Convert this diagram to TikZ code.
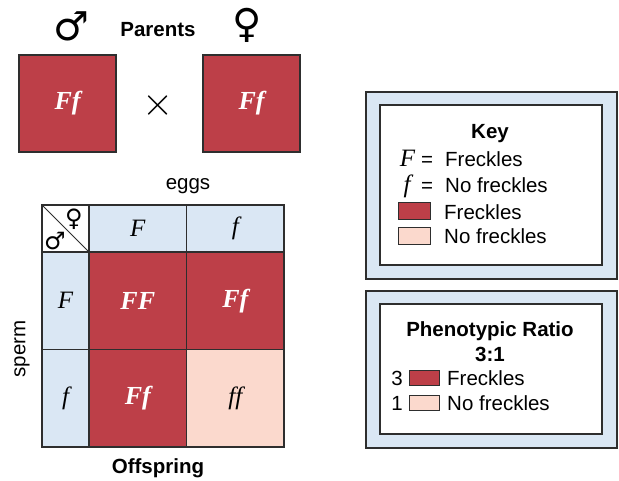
\documentclass[tikz,border=0pt]{standalone}
\usepackage{fontspec}
\setmainfont{Liberation Sans}
\newfontfamily\allelefont{Liberation Serif}
\newfontfamily\symbfont{DejaVu Sans}
\usetikzlibrary{positioning}

\definecolor{punnred}{HTML}{BD3F48}
\definecolor{punnpink}{HTML}{FBD9CD}
\definecolor{punnblue}{HTML}{DAE7F4}
\definecolor{punnline}{HTML}{2E2E2E}

\begin{document}
\begin{tikzpicture}[
            x=1pt, y=-1pt,
            lbl/.style={font=\fontsize{20.5}{24}\selectfont, inner sep=0pt},
            hdr/.style={font=\fontsize{20.5}{24}\selectfont\bfseries, inner sep=0pt},
            sex/.style={font=\fontsize{40}{40}\selectfont\symbfont, inner sep=0pt},
            cell/.style={draw=punnline, line width=1.2pt, inner sep=0pt, outer sep=0pt,
                minimum width=97.5pt, minimum height=97.5pt},
            allele/.style={font=\fontsize{25}{25}\selectfont\allelefont\itshape},
            geno/.style={font=\fontsize{26}{26}\selectfont\allelefont\bfseries\itshape, text=white},
            swatch/.style={draw=punnline, line width=1pt, inner sep=0pt, minimum width=32pt, minimum height=17pt},
            panel/.style={draw=punnline, line width=1.2pt, fill=punnblue, inner sep=0pt},
            inner/.style={draw=punnline, line width=1.4pt, fill=white, inner sep=0pt},
        ]
        \useasboundingbox (0,0) rectangle (619,481);

        % parents
        \node[sex] (maleP) at (71,26) {♂};
        \node[hdr, anchor=base] (parents) at (158,37) {Parents};
        \node[sex] (femaleP) at (247,25) {♀};
        \node[cell, fill=punnred, minimum width=97pt, minimum height=97pt, geno] (parM) at (67.5,103.5) {Ff};
        \node[cell, fill=punnred, minimum width=97pt, minimum height=97pt, geno] (parF) at (251.5,103.5) {Ff};
        \node[scale=4.0, inner sep=0pt] (cross) at (158,106) {$\times$};

        % punnett square
        \node[lbl] (eggs) at (188,186) {eggs};
        \node[lbl, rotate=90] (sperm) at (22,349) {sperm};
        \node[cell, fill=white, minimum width=47pt, minimum height=47pt] (corner) at (65.5,228.5) {};
        \node[cell, fill=punnblue, minimum height=47pt, allele] (hF) at (137.75,228.5) {F};
        \node[cell, fill=punnblue, minimum height=47pt, allele] (hf) at (235.25,228.5) {f};
        \node[cell, fill=punnblue, minimum width=47pt, allele] (rF) at (65.5,300.75) {F};
        \node[cell, fill=punnblue, minimum width=47pt, allele] (rf) at (65.5,398.25) {f};
        \node[cell, fill=punnred, geno] (FF) at (137.75,300.75) {FF};
        \node[cell, fill=punnred, geno] (Ff1) at (235.25,300.75) {Ff};
        \node[cell, fill=punnred, geno] (Ff2) at (137.75,398.25) {Ff};
        \node[cell, fill=punnpink, allele] (ff) at (235.25,398.25) {ff};
        \draw[punnline, line width=1pt] (corner.north west) -- (corner.south east);
        \node[sex, font=\fontsize{24}{24}\selectfont\symbfont] (femaleC) at (74,219) {♀};
        \node[sex, font=\fontsize{24}{24}\selectfont\symbfont] (maleC) at (55,241) {♂};
        \draw[punnline, line width=2.6pt] (corner.north east) -- (rf.south east);
        \draw[punnline, line width=2.6pt] (corner.south west) -- (hf.south east);
        \node[hdr] (offspring) at (158,468) {Offspring};

        % key
        \node[panel, minimum width=251pt, minimum height=187pt] (keyout) at (491.5,185.5) {};
        \node[inner, minimum width=222pt, minimum height=160pt] (keyin) at (491,185) {};
        \node[hdr, anchor=base] (keyttl) at (490,139) {Key};
        \node[allele, inner sep=0pt, anchor=base] (keyF) at (407.5,167) {F};
        \node[lbl, anchor=base] (keyFeq) at (427,167) {=};
        \node[lbl, anchor=base west] (keyFtxt) at (445,167) {Freckles};
        \node[allele, inner sep=0pt, anchor=base] (keyf) at (407,193) {f};
        \node[lbl, anchor=base] (keyfeq) at (427,193) {=};
        \node[lbl, anchor=base west] (keyftxt) at (445,193) {No freckles};
        \node[swatch, fill=punnred] (keyred) at (414,211.5) {};
        \node[lbl, anchor=base west] (keyredtxt) at (444,220) {Freckles};
        \node[swatch, fill=punnpink] (keypink) at (414,236.5) {};
        \node[lbl, anchor=base west] (keypinktxt) at (444,244) {No freckles};

        % ratio
        \node[panel, minimum width=251pt, minimum height=157pt] (ratout) at (491.5,369.5) {};
        \node[inner, minimum width=222pt, minimum height=130pt] (ratin) at (491,369) {};
        \node[hdr, anchor=base] (ratttl) at (490,337) {Phenotypic Ratio};
        \node[hdr, anchor=base] (ratval) at (490,361) {3:1};
        \node[lbl, anchor=base] (ratn3) at (397,385) {3};
        \node[swatch, fill=punnred, minimum width=30pt, minimum height=15pt] (ratred) at (424,377.5) {};
        \node[lbl, anchor=base west] (ratredtxt) at (447,385) {Freckles};
        \node[lbl, anchor=base] (ratn1) at (397,410) {1};
        \node[swatch, fill=punnpink, minimum width=30pt, minimum height=15pt] (ratpink) at (424,402.5) {};
        \node[lbl, anchor=base west] (ratpinktxt) at (447,410) {No freckles};
    \end{tikzpicture}
\end{document}
